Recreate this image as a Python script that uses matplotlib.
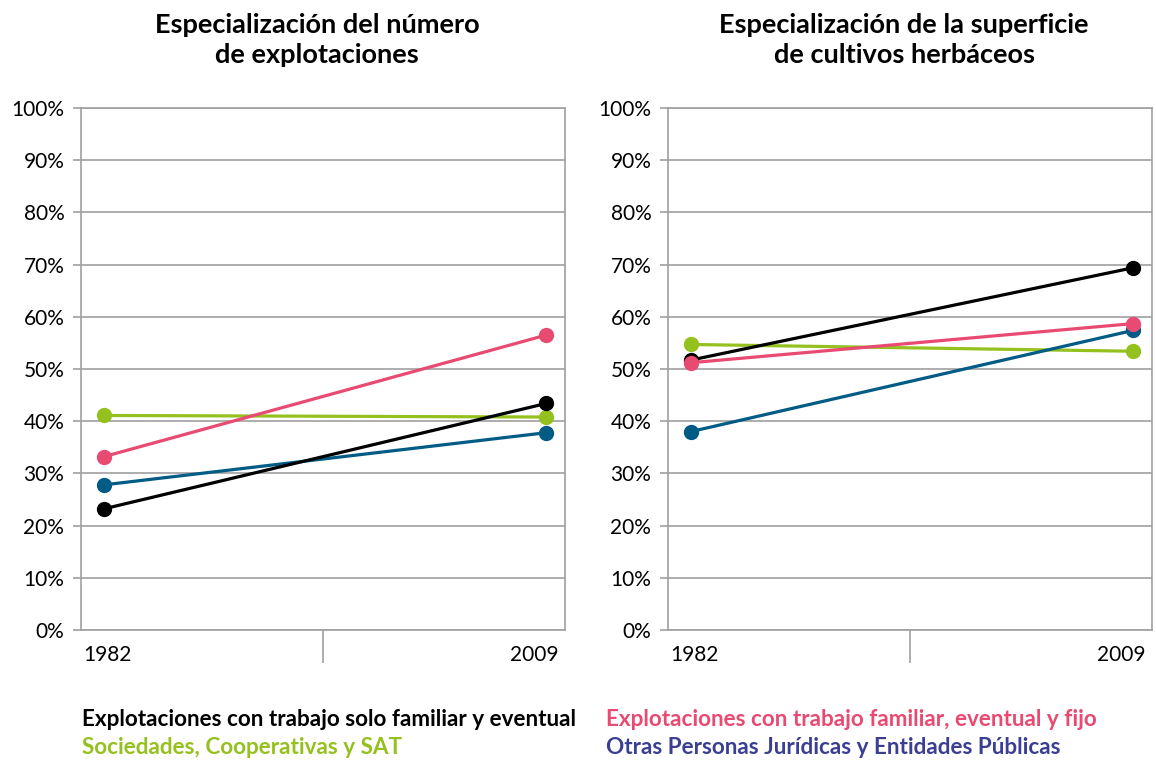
import matplotlib.pyplot as plt
from matplotlib.ticker import FuncFormatter

plt.rcParams['font.family'] = ['Lato', 'DejaVu Sans']

# Datos
years = ['1982', '2009']
series_names = ['Explotaciones con trabajo solo familiar y eventual',
                'Explotaciones con trabajo familiar, eventual y fijo',
                'Sociedades, Cooperativas y SAT',
                'Otras Personas Jurídicas y Entidades Públicas']
line_colors = ['#000000', '#e84a72', '#95c11f', '#005b85']
text_colors = ['#000000', '#e84a72', '#95c11f', '#3a3f94']

# especialización del número de explotaciones (%)
numero = [[23.2, 43.4], [33.2, 56.5], [41.1, 40.8], [27.8, 37.8]]
# especialización de la superficie de cultivos herbáceos (%)
superficie = [[51.7, 69.4], [51.2, 58.7], [54.7, 53.4], [38.0, 57.4]]

titles = ['Especialización del número\nde explotaciones',
          'Especialización de la superficie\nde cultivos herbáceos']

W, H = 1156, 762
fig = plt.figure(figsize=(W / 100, H / 100), dpi=100)

grid_col = '#a0a0a0'
draw_order = [2, 3, 0, 1]  # rosa encima

for k, (data, title, x0) in enumerate(zip([numero, superficie], titles, [81, 668])):
    ax = fig.add_axes([x0 / W, 1 - 630 / H, 484 / W, 522 / H])
    xs = [0, 1]
    for z, i in enumerate(draw_order):
        ax.plot(xs, data[i], color=line_colors[i], lw=2.3, marker='o',
                markersize=10, zorder=3 + z, clip_on=False)
    ax.set_xlim(-0.0513, 1.0423)
    ax.set_ylim(0, 100)
    ax.set_yticks(range(0, 101, 10))
    ax.yaxis.set_major_formatter(FuncFormatter(lambda v, p: f'{v:.0f}%'))
    ax.grid(axis='y', color=grid_col, lw=1.2)
    ax.set_axisbelow(True)
    for s in ax.spines.values():
        s.set_color(grid_col)
        s.set_linewidth(1.2)
    ax.tick_params(axis='y', length=6, width=1.2, color=grid_col,
                   labelsize=15, pad=6, labelcolor='#000000')
    # eje de categorías: marca central
    ax.set_xticks([0.5 * (ax.get_xlim()[0] + ax.get_xlim()[1])])
    ax.set_xticklabels([''])
    ax.tick_params(axis='x', length=24, width=1.2, color=grid_col)
    ax.text(0.004, -0.048, years[0], transform=ax.transAxes,
            ha='left', va='center', fontsize=15)
    ax.text(0.986, -0.048, years[1], transform=ax.transAxes,
            ha='right', va='center', fontsize=15)
    cx = (x0 + 242 - 6) / W
    fig.text(cx, 1 - 40 / H, title, ha='center', va='center',
             fontsize=19.5, fontweight='bold', linespacing=1.3)

# Leyenda como texto coloreado
leg_pos = [(82, 720), (606, 720), (82, 748), (606, 748)]
for name, col, (lx, ly) in zip(series_names, text_colors, leg_pos):
    fig.text(lx / W, 1 - ly / H, name, color=col, fontsize=16.2,
             fontweight='bold', ha='left', va='center')

fig.savefig('out.png', dpi=100)
